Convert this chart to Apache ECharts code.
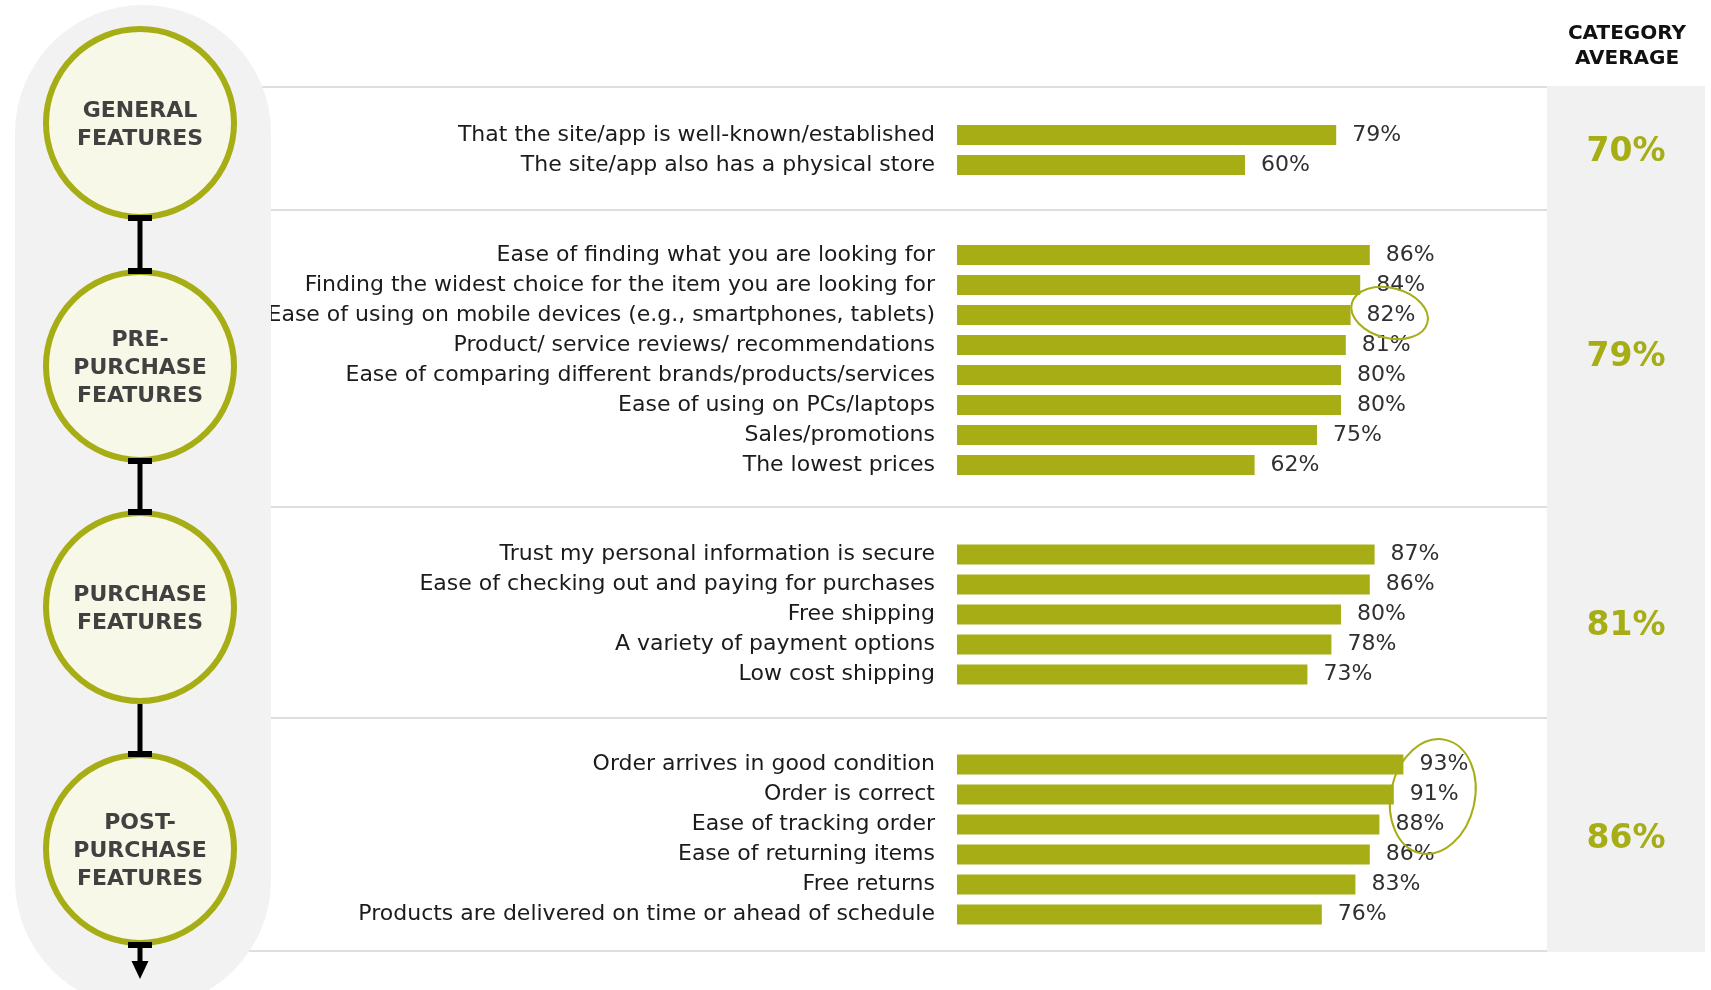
<!DOCTYPE html>
<html>
<head>
<meta charset="utf-8">
<script src="https://cdn.jsdelivr.net/npm/echarts@6/dist/echarts.min.js"></script>
<style>
  html, body { margin: 0; padding: 0; background: #ffffff; }
  #chart { width: 1711px; height: 990px; }
</style>
</head>
<body>
<div id="chart"></div>
<script>
// ---- data ----
const generalLabels = [
  'That the site/app is well-known/established',
  'The site/app also has a physical store'
];
const generalValues = [79, 60];

const preLabels = [
  'Ease of finding what you are looking for',
  'Finding the widest choice for the item you are looking for',
  'Ease of using on mobile devices (e.g., smartphones, tablets)',
  'Product/ service reviews/ recommendations',
  'Ease of comparing different brands/products/services',
  'Ease of using on PCs/laptops',
  'Sales/promotions',
  'The lowest prices'
];
const preValues = [86, 84, 82, 81, 80, 80, 75, 62];

const purchaseLabels = [
  'Trust my personal information is secure',
  'Ease of checking out and paying for purchases',
  'Free shipping',
  'A variety of payment options',
  'Low cost shipping'
];
const purchaseValues = [87, 86, 80, 78, 73];

const postLabels = [
  'Order arrives in good condition',
  'Order is correct',
  'Ease of tracking order',
  'Ease of returning items',
  'Free returns',
  'Products are delivered on time or ahead of schedule'
];
const postValues = [93, 91, 88, 86, 83, 76];

const stageNames = ['GENERAL\nFEATURES', 'PRE-\nPURCHASE\nFEATURES', 'PURCHASE\nFEATURES', 'POST-\nPURCHASE\nFEATURES'];
const averageHeader = 'CATEGORY\nAVERAGE';
const categoryAverages = [70, 79, 81, 86];

// ---- layout & style ----
const OLIVE = '#a6ad15';
const ROW = 30;
const BAR_LEFT = 957;
const AXIS_WIDTH = 480;          // 0..100 %
const sectionTops = [120, 240, 539.5, 749.5];
const separatorYs = [87, 210, 507, 718, 951];
const stageCenterYs = [123, 366, 607, 849];
const averageYs = [152, 357, 626, 839];
const STAGE_X = 140, STAGE_R = 94;
const PANEL_X = 1547, PANEL_RIGHT = 1705;
const TEXT_FONT = 'DejaVu Sans, sans-serif';

const sections = [
  { labels: generalLabels, values: generalValues },
  { labels: preLabels, values: preValues },
  { labels: purchaseLabels, values: purchaseValues },
  { labels: postLabels, values: postValues }
];

const grids = [], xAxes = [], yAxes = [], series = [];
sections.forEach((s, i) => {
  grids.push({ left: BAR_LEFT, width: AXIS_WIDTH, top: sectionTops[i], height: s.labels.length * ROW, containLabel: false });
  xAxes.push({
    type: 'value', gridIndex: i, min: 0, max: 100,
    show: false
  });
  yAxes.push({
    type: 'category', gridIndex: i, data: s.labels, inverse: true,
    axisLine: { show: false }, axisTick: { show: false }, splitLine: { show: false },
    axisLabel: {
      margin: 22, fontSize: 22, color: '#1b1b1b',
      fontFamily: TEXT_FONT
    }
  });
  series.push({
    type: 'bar', xAxisIndex: i, yAxisIndex: i, data: s.values,
    barWidth: 20, itemStyle: { color: OLIVE },
    label: {
      show: true, position: 'right', distance: 16,
      formatter: '{c}%', fontSize: 22, color: '#303030',
      fontFamily: TEXT_FONT
    },
    silent: true, animation: false
  });
});

// background: grey column behind the stages, separators, right panel
const graphics = [];
separatorYs.forEach((y) => {
  graphics.push({
    type: 'line', z: 0, silent: true,
    shape: { x1: 230, y1: y, x2: PANEL_X, y2: y },
    style: { stroke: '#dedede', lineWidth: 2 }
  });
});
graphics.push({
  type: 'rect', z: 1, silent: true,
  shape: { x: 15, y: 5, width: 256, height: 1003, r: 128 },
  style: { fill: '#f2f2f2' }
});
graphics.push({
  type: 'rect', z: 1, silent: true,
  shape: { x: PANEL_X, y: separatorYs[0] - 1, width: PANEL_RIGHT - PANEL_X, height: separatorYs[4] - separatorYs[0] + 2 },
  style: { fill: '#f1f1f1' }
});

// connectors between stages
const outerR = STAGE_R + 3;
function capRect(y) {
  return { type: 'rect', z: 6, silent: true, shape: { x: STAGE_X - 12, y: y, width: 24, height: 6 }, style: { fill: '#000' } };
}
for (let i = 0; i < stageCenterYs.length - 1; i++) {
  const yA = stageCenterYs[i] + outerR;
  const yB = stageCenterYs[i + 1] - outerR;
  graphics.push({
    type: 'line', z: 4, silent: true,
    shape: { x1: STAGE_X, y1: yA, x2: STAGE_X, y2: yB },
    style: { stroke: '#000', lineWidth: 5 }
  });
  if (i !== 2) graphics.push(capRect(yA - 5));
  graphics.push(capRect(yB - 1));
}
// final arrow
const lastBottom = stageCenterYs[3] + outerR;
graphics.push(capRect(lastBottom - 4));
graphics.push({
  type: 'line', z: 4, silent: true,
  shape: { x1: STAGE_X, y1: lastBottom, x2: STAGE_X, y2: lastBottom + 18 },
  style: { stroke: '#000', lineWidth: 5 }
});
graphics.push({
  type: 'polygon', z: 6, silent: true,
  shape: { points: [[STAGE_X - 8.5, lastBottom + 15], [STAGE_X + 8.5, lastBottom + 15], [STAGE_X, lastBottom + 33]] },
  style: { fill: '#000' }
});

// stage circles
stageNames.forEach((name, i) => {
  graphics.push({
    type: 'circle', z: 5, silent: true,
    shape: { cx: STAGE_X, cy: stageCenterYs[i], r: STAGE_R },
    style: { fill: '#f7f8e7', stroke: OLIVE, lineWidth: 6 }
  });
  graphics.push({
    type: 'text', z: 7, silent: true,
    x: STAGE_X, y: stageCenterYs[i] + 2,
    style: {
      text: name, align: 'center', verticalAlign: 'middle',
      fontFamily: TEXT_FONT, fontWeight: 'bold', fontSize: 22,
      lineHeight: 28, fill: '#414141'
    }
  });
});

// category average column
graphics.push({
  type: 'text', z: 7, silent: true,
  x: (PANEL_X + PANEL_RIGHT) / 2 + 1, y: 21,
  style: {
    text: averageHeader, align: 'center', verticalAlign: 'top',
    fontFamily: TEXT_FONT, fontWeight: 'bold', fontSize: 20,
    lineHeight: 25, fill: '#111111'
  }
});
categoryAverages.forEach((v, i) => {
  graphics.push({
    type: 'text', z: 7, silent: true,
    x: (PANEL_X + PANEL_RIGHT) / 2, y: averageYs[i],
    style: {
      text: v + '%', align: 'center', verticalAlign: 'middle',
      fontFamily: TEXT_FONT, fontWeight: 'bold', fontSize: 33,
      fill: OLIVE
    }
  });
});

const chart = echarts.init(document.getElementById('chart'), null, { renderer: 'canvas' });
chart.setOption({
  backgroundColor: '#ffffff',
  animation: false,
  grid: grids, xAxis: xAxes, yAxis: yAxes, series: series,
  graphic: graphics
});

// highlight rings drawn around selected value labels, placed through the axes
function ring(seriesIndex, value, row, dx, dy, rx, ry, rot) {
  const p = chart.convertToPixel({ seriesIndex: seriesIndex }, [value, row]);
  return {
    type: 'ellipse', z: 8, silent: true,
    shape: { cx: p[0] + dx, cy: p[1] + dy, rx: rx, ry: ry },
    originX: p[0] + dx, originY: p[1] + dy, rotation: rot,
    style: { fill: 'none', stroke: OLIVE, lineWidth: 2 }
  };
}
chart.setOption({
  graphic: graphics.concat([
    ring(1, preValues[2], 2, 39, -2, 39, 25, -0.25),
    ring(3, postValues[1], 1, 39, 2, 42, 58, -0.22)
  ])
});
</script>
</body>
</html>
